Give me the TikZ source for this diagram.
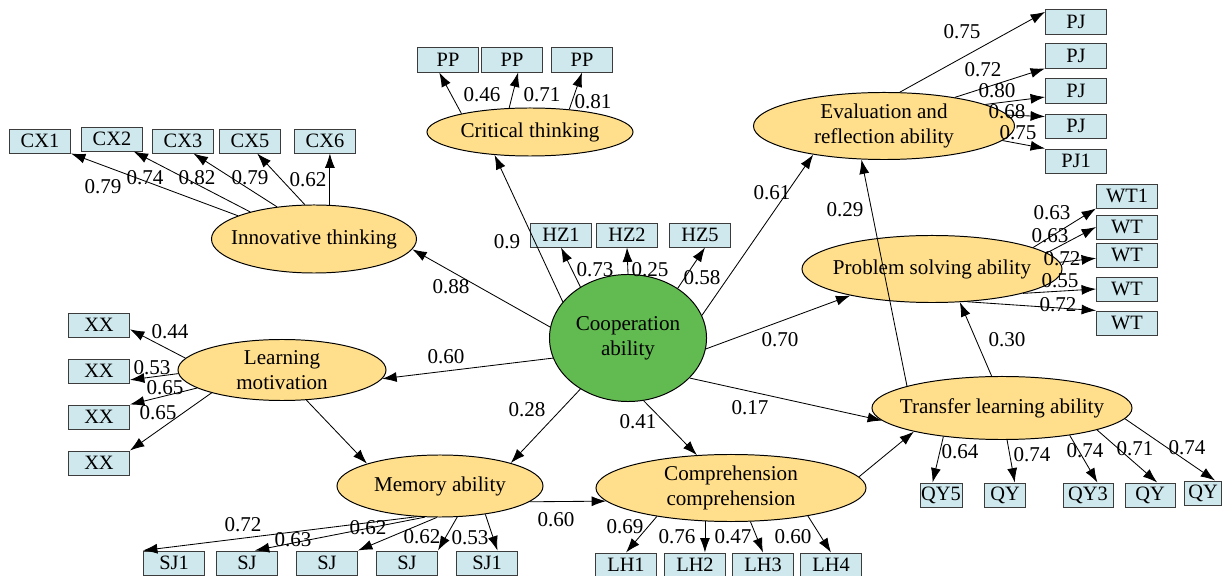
\documentclass[tikz,border=0pt]{standalone}
\usepackage{fontspec}
\setmainfont{Liberation Serif}
\usetikzlibrary{shapes.geometric,arrows.meta}

\definecolor{latfill}{RGB}{255,222,140}
\definecolor{coopfill}{RGB}{98,187,80}
\definecolor{obsfill}{RGB}{206,232,237}
\definecolor{obsline}{RGB}{60,60,60}

\begin{document}
\begin{tikzpicture}[x=0.025cm, y=-0.025cm,
    latent/.style={ellipse, draw, line width=0.7pt, fill=latfill, inner sep=0pt,
      label={[align=center, font=\fontsize{15}{17.7}\selectfont]center:#1}},
    obs/.style={rectangle, draw=obsline, line width=0.7pt, fill=obsfill, inner sep=0pt,
      minimum width=1.525cm, minimum height=0.6cm, font=\fontsize{14.5}{16}\selectfont},
    load/.style={-{Latex[length=3.6mm,width=2.5mm]}, line width=0.6pt},
    coef/.style={inner sep=0pt, font=\fontsize{15}{17}\selectfont}]
    \useasboundingbox (0,0) rectangle (1224,576);

    % Latent variables
    \node[latent={Innovative thinking}, minimum width=5.125cm, minimum height=1.7cm] (innov) at (314,239) {};
    \node[latent={Critical thinking}, minimum width=5.15cm, minimum height=1.2cm] (crit) at (530,132) {};
    \node[latent={Evaluation and\\reflection ability}, minimum width=6.525cm, minimum height=1.675cm] (eval) at (884,126) {};
    \node[latent={Problem solving ability}, minimum width=6.5cm, minimum height=1.675cm] (prob) at (932,269) {};
    \node[latent={Cooperation\\ability}, fill=coopfill, minimum width=3.925cm, minimum height=3.175cm] (coop) at (628,338) {};
    \node[latent={Learning\\motivation}, minimum width=5.2cm, minimum height=1.525cm] (learn) at (282,370) {};
    \node[latent={Memory ability}, minimum width=5.15cm, minimum height=1.55cm] (mem) at (440,486) {};
    \node[latent={Comprehension\\comprehension}, minimum width=6.75cm, minimum height=1.675cm] (comp) at (731,488) {};
    \node[latent={Transfer learning ability}, minimum width=6.5cm, minimum height=1.575cm] (trans) at (1002,408) {};

    % Indicators
    \node[obs] (cx1) at (40,141) {CX1};
    \node[obs] (cx2) at (112,139) {CX2};
    \node[obs] (cx3) at (183,141) {CX3};
    \node[obs] (cx5) at (250,141) {CX5};
    \node[obs] (cx6) at (325,141) {CX6};

    \node[obs] (pp1) at (448,60) {PP};
    \node[obs] (pp2) at (512,60) {PP};
    \node[obs] (pp3) at (582,60) {PP};

    \node[obs] (hz1) at (561,235) {HZ1};
    \node[obs] (hz2) at (627,235) {HZ2};
    \node[obs] (hz5) at (700,235) {HZ5};

    \node[obs] (pj1) at (1076,22) {PJ};
    \node[obs] (pj2) at (1076,56) {PJ};
    \node[obs] (pj3) at (1076,91) {PJ};
    \node[obs] (pj4) at (1076,126) {PJ};
    \node[obs] (pj5) at (1076,161) {PJ1};

    \node[obs] (wt1) at (1127,196) {WT1};
    \node[obs] (wt2) at (1127,227) {WT};
    \node[obs] (wt3) at (1127,255) {WT};
    \node[obs] (wt4) at (1127,289) {WT};
    \node[obs] (wt5) at (1127,323) {WT};

    \node[obs] (xx1) at (99,325) {XX};
    \node[obs] (xx2) at (99,371) {XX};
    \node[obs] (xx3) at (99,417) {XX};
    \node[obs] (xx4) at (99,463) {XX};

    \node[obs] (sj1) at (174,563) {SJ1};
    \node[obs] (sj2) at (247,563) {SJ};
    \node[obs] (sj3) at (327,563) {SJ};
    \node[obs] (sj4) at (407,563) {SJ};
    \node[obs] (sj5) at (487,563) {SJ1};

    \node[obs] (lh1) at (626,565) {LH1};
    \node[obs] (lh2) at (695,565) {LH2};
    \node[obs] (lh3) at (763,565) {LH3};
    \node[obs] (lh4) at (831,565) {LH4};

    \node[obs, minimum width=1.05cm] (qy1) at (941,495) {QY5};
    \node[obs, minimum width=1.025cm] (qy2) at (1005,495) {QY};
    \node[obs, minimum width=1.25cm] (qy3) at (1088,495) {QY3};
    \node[obs, minimum width=1.25cm] (qy4) at (1150,495) {QY};
    \node[obs, minimum width=0.925cm] (qy5) at (1203,493) {QY};

    % Innovative thinking
    \draw[load] (innov.163) -- (cx1.south east);
    \draw[load] (innov.157) -- (cx2.-30);
    \draw[load] (innov.139) -- (cx3.-50);
    \draw[load] (innov.105) -- (cx5.-60);
    \draw[load] (innov.65) -- (innov.65 |- cx6.south);
    \node[coef] (k-cx1) at (103,187) {0.79};
    \node[coef] (k-cx2) at (145,178) {0.74};
    \node[coef] (k-cx3) at (197,178) {0.82};
    \node[coef] (k-cx5) at (250,178) {0.79};
    \node[coef] (k-cx6) at (308,180) {0.62};

    % Critical thinking
    \draw[load] (crit.165) -- (pp1.-125);
    \draw[load] (crit.131) -- (pp2.-64);
    \draw[load] (crit.30) -- (pp3.south);
    \node[coef] (k-pp1) at (482,95) {0.46};
    \node[coef] (k-pp2) at (542,95) {0.71};
    \node[coef] (k-pp3) at (593,102) {0.81};

    % Cooperation ability
    \draw[load] (coop.133) -- (hz1.south);
    \draw[load] (coop.north) -- (hz2.south);
    \draw[load] (coop.45) -- (hz5.-68);
    \node[coef] (k-hz1) at (595,270) {0.73};
    \node[coef] (k-hz2) at (650,270) {0.25};
    \node[coef] (k-hz5) at (702,278) {0.58};

    \draw[load] (coop.151) -- (crit.-147);
    \draw[load] (coop.17) -- (eval.-158);
    \draw[load] (coop.172) -- (innov.-6);
    \draw[load] (coop.195) -- (learn.-5);
    \draw[load] (coop.-8) -- (prob.-162);
    \draw[load] (coop.-133) -- (mem.18);
    \draw[load] (coop.-76) -- (comp.136);
    \draw[load] (coop.-33) -- (trans.-174);
    \node[coef] (k-crit) at (507,242) {0.9};
    \node[coef] (k-eval) at (772,193) {0.61};
    \node[coef] (k-innov) at (451,287) {0.88};
    \node[coef] (k-learn) at (446,357) {0.60};
    \node[coef] (k-prob) at (780,340) {0.70};
    \node[coef] (k-mem) at (527,410) {0.28};
    \node[coef] (k-comp) at (638,422) {0.41};
    \node[coef] (k-trans) at (750,408) {0.17};

    % Evaluation and reflection ability
    \draw[load] (eval.65) -- (pj1.162);
    \draw[load] (eval.22) -- (pj2.south west);
    \draw[load] (eval.12) -- (pj3.-169);
    \draw[load] (eval.5) -- (pj4.163);
    \draw[load] (eval.-7) -- (pj5.north west);
    \node[coef] (k-pj1) at (962,32) {0.75};
    \node[coef] (k-pj2) at (983,70) {0.72};
    \node[coef] (k-pj3) at (997,91) {0.80};
    \node[coef] (k-pj4) at (1007,112) {0.68};
    \node[coef] (k-pj5) at (1018,133) {0.75};

    % Problem solving ability
    \draw[load] (prob.12) -- (wt1.south west);
    \draw[load] (prob.8) -- (wt2.west);
    \draw[load] (prob.3) -- (wt3.-174);
    \draw[load] (prob.-15) -- (wt4.west);
    \draw[load] (prob.-43) -- (wt5.north west);
    \node[coef] (k-wt1) at (1052,213) {0.63};
    \node[coef] (k-wt2) at (1050,236) {0.63};
    \node[coef] (k-wt3) at (1062,259) {0.72};
    \node[coef] (k-wt4) at (1060,281) {0.55};
    \node[coef] (k-wt5) at (1058,305) {0.72};

    % Transfer learning ability
    \draw[load] (trans.167) -- (eval.-124);
    \draw[load] (trans.108) -- (prob.-50);
    \node[coef] (k-te) at (845,210) {0.29};
    \node[coef] (k-tp) at (1007,340) {0.30};
    \draw[load] (trans.-154) -- (qy1.124);
    \draw[load] (trans.-81) -- (qy2.52);
    \draw[load] (trans.-22) -- (qy3.53);
    \draw[load] (trans.-13) -- (qy4.60);
    \draw[load] (trans.-5) -- (qy5.46);
    \node[coef] (k-qy1) at (960,452) {0.64};
    \node[coef] (k-qy2) at (1032,455) {0.74};
    \node[coef] (k-qy3) at (1085,451) {0.74};
    \node[coef] (k-qy4) at (1135,449) {0.71};
    \node[coef] (k-qy5) at (1187,448) {0.74};

    % Learning motivation
    \draw[load] (learn.173) -- (xx1.-8);
    \draw[load] (learn.182) -- (xx2.-16);
    \draw[load] (learn.-168) -- (xx3.north east);
    \draw[load] (learn.-162) -- (xx4.north east);
    \draw[load] (learn.-51) -- (mem.163);
    \node[coef] (k-xx1) at (170,332) {0.44};
    \node[coef] (k-xx2) at (152,368) {0.53};
    \node[coef] (k-xx3) at (165,388) {0.65};
    \node[coef] (k-xx4) at (158,413) {0.65};

    % Memory ability
    \draw[load] (mem.-127) -- (sj1.north west);
    \draw[load] (mem.-116) -- (sj2.58);
    \draw[load] (mem.-96) -- (sj3.north east);
    \draw[load] (mem.-61) -- (sj4.north east);
    \draw[load] (mem.-32) -- (sj5.50);
    \draw[load] (mem.-10) -- (comp.-174);
    \node[coef] (k-sj1) at (243,525) {0.72};
    \node[coef] (k-sj2) at (293,540) {0.63};
    \node[coef] (k-sj3) at (368,528) {0.62};
    \node[coef] (k-sj4) at (422,537) {0.62};
    \node[coef] (k-sj5) at (470,538) {0.53};
    \node[coef] (k-mc) at (556,520) {0.60};

    % Comprehension
    \draw[load] (comp.-159) -- (lh1.north);
    \draw[load] (comp.-128) -- (comp.-128 |- lh2.north);
    \draw[load] (comp.-60) -- (lh3.north);
    \draw[load] (comp.-20) -- (lh4.north);
    \draw[load] (comp.5) -- (trans.-165);
    \node[coef] (k-lh1) at (625,527) {0.69};
    \node[coef] (k-lh2) at (677,537) {0.76};
    \node[coef] (k-lh3) at (733,537) {0.47};
    \node[coef] (k-lh4) at (793,537) {0.60};
\end{tikzpicture}
\end{document}
